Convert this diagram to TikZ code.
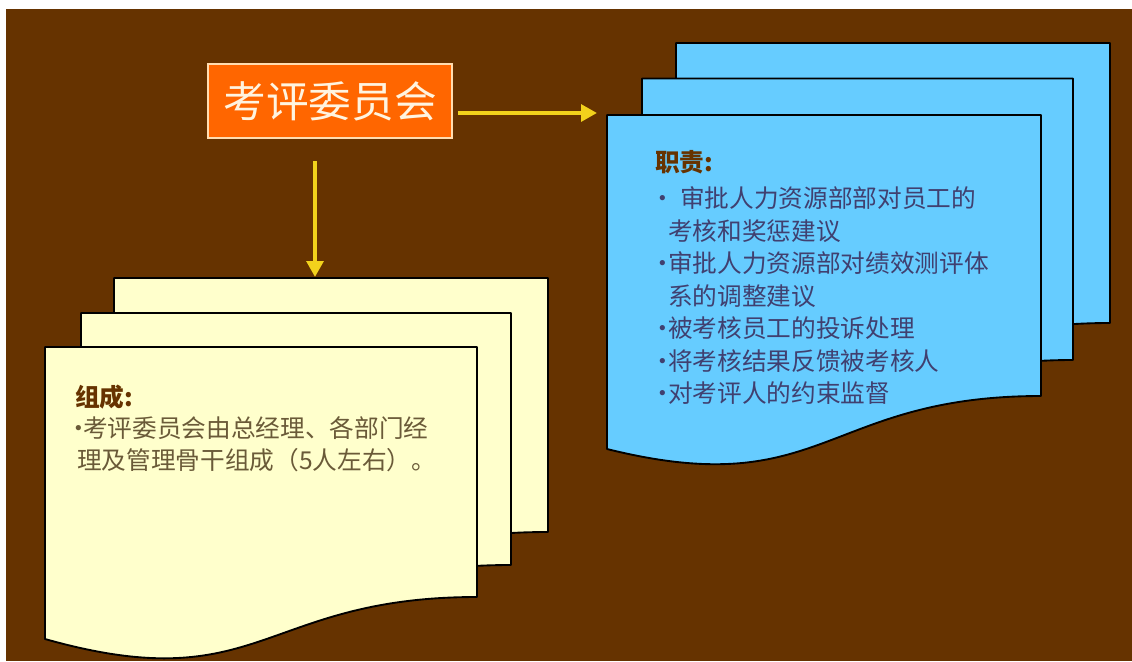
\documentclass[tikz,border=0pt]{standalone}
\usepackage{fontspec}
\setmainfont{Noto Sans CJK SC}
\usetikzlibrary{arrows.meta}
\definecolor{bgbrown}{HTML}{663300}
\definecolor{boxorange}{HTML}{FF6600}
\definecolor{boxedge}{HTML}{FFDDB0}
\definecolor{titletext}{HTML}{FFF4E0}
\definecolor{arrowyellow}{HTML}{F2D21C}
\definecolor{docblue}{HTML}{66CCFF}
\definecolor{docyellow}{HTML}{FFFFCC}
\definecolor{bluetext}{HTML}{404070}
\definecolor{yellowtext}{HTML}{6A5A38}
\definecolor{headbrown}{HTML}{663300}
\newcommand\mydoc[7]{%
  \path[docline,fill=#1] (#2,#3) -- (#4,#3) -- (#4,#5)
    .. controls ({(#2+#4)/2},#5) and ({(#2+#4)/2},#7) .. (#2,#6) -- cycle;}
\newcommand\bul[1]{\makebox[#1][c]{•}}
\begin{document}
\begin{tikzpicture}[x=0.75pt,y=-0.75pt,
  docline/.style={draw=black,line width=1.4pt,line join=round},
  arr/.style={draw=arrowyellow,line width=3pt,-{Triangle[length=12pt,width=12.5pt]}},
  titlebox/.style={fill=boxorange,draw=boxedge,line width=1.4pt,inner sep=0pt,
    minimum width=183pt,minimum height=55.5pt,text=titletext,font=\fontsize{32pt}{36pt}\selectfont},
  btext/.style={anchor=base west,inner sep=0pt,text=bluetext,font=\fontsize{18.5pt}{22pt}\selectfont},
  bhead/.style={anchor=base west,inner sep=0pt,text=headbrown,font=\fontsize{18.5pt}{22pt}\selectfont\bfseries},
  ytext/.style={anchor=base west,inner sep=0pt,text=yellowtext,font=\fontsize{18.5pt}{22pt}\selectfont},
  yhead/.style={anchor=base west,inner sep=0pt,text=headbrown,font=\fontsize{18.5pt}{22pt}\selectfont\bfseries}]
\useasboundingbox (0,0) rectangle (1132,661);
\fill[white] (0,0) rectangle (1132,661);
\fill[bgbrown] (6,9) rectangle (1132,661);

% blue multi-document
\mydoc{docblue}{676}{43}{1110}{323}{369}{430}
\mydoc{docblue}{642}{78.5}{1073}{360}{406}{467}
\mydoc{docblue}{607}{115}{1041}{396}{449}{503}

% yellow multi-document
\mydoc{docyellow}{114}{278}{548}{532}{574}{629}
\mydoc{docyellow}{81}{313}{511}{565}{606}{661}
\mydoc{docyellow}{45}{347}{477}{597}{639}{700}

% title
\node[titlebox] (title) at (330,101) {考评委员会};

% connectors
\coordinate (rstart) at (458,113);
\coordinate (rend) at (597,113);
\coordinate (dstart) at (315,161);
\coordinate (dend) at (315,277);
\draw[arr] (rstart) -- (rend);
\draw[arr] (dstart) -- (dend);

% blue text
\node[bhead] (bh) at (655,171) {职责:};
\node[btext] (b1) at (657,207) {\bul{8.25pt}\hspace{9pt}审批人力资源部部对员工的};
\node[btext] (b2) at (668,240) {考核和奖惩建议};
\node[btext] (b3) at (657,272) {\bul{8.25pt}审批人力资源部对绩效测评体};
\node[btext] (b4) at (668,305) {系的调整建议};
\node[btext] (b5) at (657,337) {\bul{8.25pt}被考核员工的投诉处理};
\node[btext] (b6) at (657,370) {\bul{8.25pt}将考核结果反馈被考核人};
\node[btext] (b7) at (657,402) {\bul{8.25pt}对考评人的约束监督};

% yellow text
\node[yhead] (yh) at (75,406) {组成:};
\node[ytext] (y1) at (75,437) {\bul{6pt}考评委员会由总经理、各部门经};
\node[ytext] (y2) at (77,469) {理及管理骨干组成（5人左右）。};
\end{tikzpicture}
\end{document}
